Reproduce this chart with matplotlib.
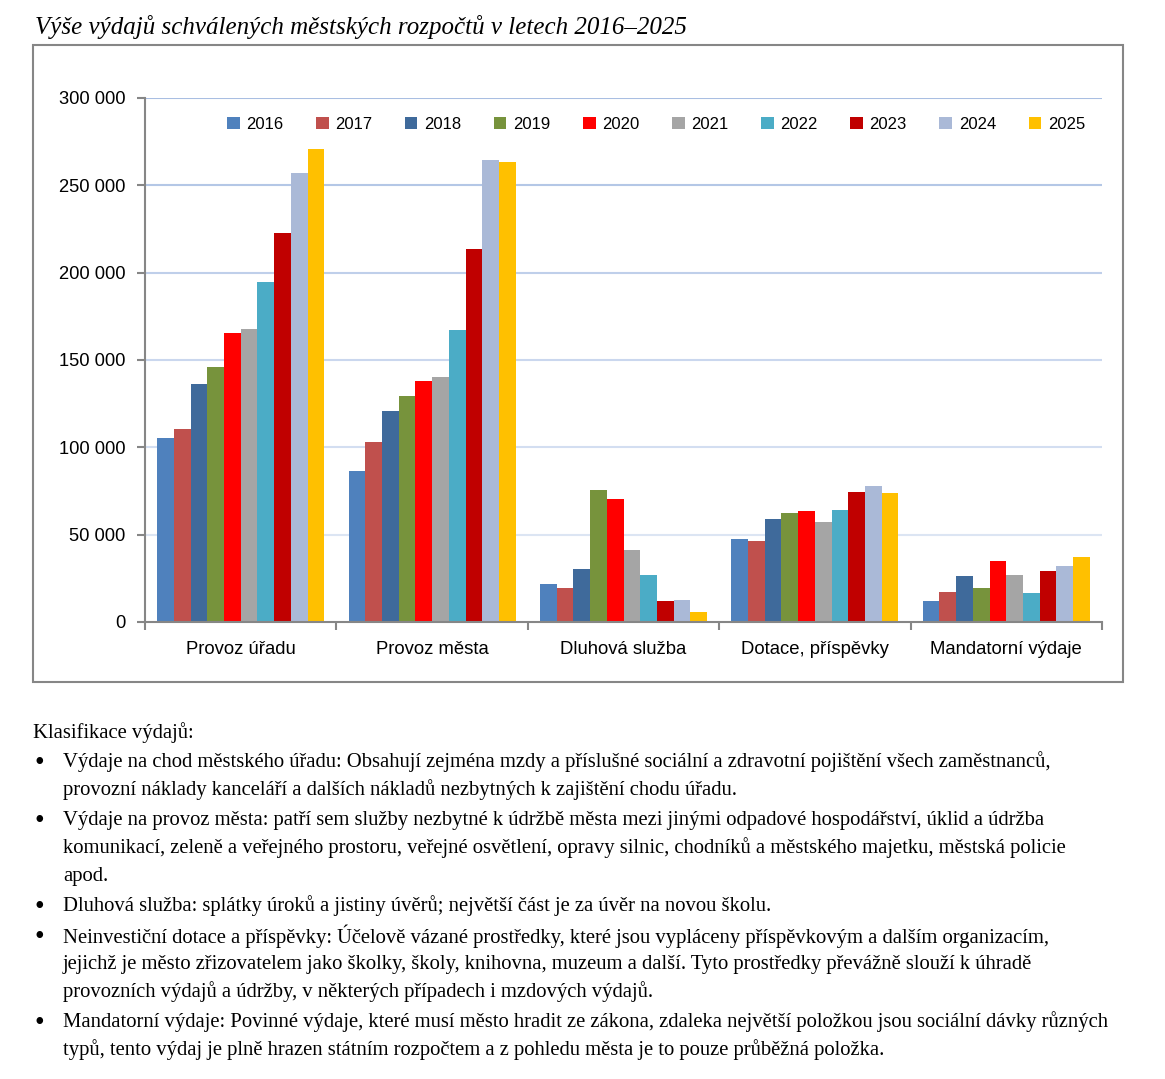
import numpy as np
import matplotlib
matplotlib.use("Agg")
import matplotlib.pyplot as plt
from matplotlib.patches import Rectangle

categories = ["Provoz úřadu", "Provoz města", "Dluhová služba", "Dotace, příspěvky", "Mandatorní výdaje"]
years = ["2016", "2017", "2018", "2019", "2020", "2021", "2022", "2023", "2024", "2025"]

# hodnoty podle kategorii, jeden seznam na rok
v2016 = [105300, 86400, 21800, 47500, 12000]
v2017 = [110500, 103000, 19500, 46400, 17200]
v2018 = [136200, 120800, 30300, 59000, 26300]
v2019 = [146000, 129400, 75600, 62400, 19500]
v2020 = [165500, 138000, 70400, 63500, 34900]
v2021 = [167700, 140300, 41200, 57200, 26900]
v2022 = [194600, 167200, 26900, 64100, 16600]
v2023 = [222700, 213500, 12000, 74400, 29200]
v2024 = [257000, 264500, 12600, 77900, 32000]
v2025 = [270800, 263400, 5700, 73800, 37200]
series = [v2016, v2017, v2018, v2019, v2020, v2021, v2022, v2023, v2024, v2025]

colors = ["#4F81BD", "#C0504D", "#3F6A9B", "#77933C", "#FF0000",
          "#A5A5A5", "#4BACC6", "#C00000", "#AAB9D7", "#FFC000"]

yticks = [0, 50000, 100000, 150000, 200000, 250000, 300000]
grid_colors = ["#DCE5F3", "#D3DEF1", "#CAD7EE", "#BFCFEA", "#B4C7E6", "#A9BEE2"]

W, H = 1165, 1079
fig = plt.figure(figsize=(W / 100, H / 100), dpi=100)

def fx(px):
    return px / W

def fy(py):
    return 1 - py / H

# ramecek grafu
fig.patches.append(Rectangle((fx(33), fy(682)), fx(1123) - fx(33), fy(45) - fy(682),
                             transform=fig.transFigure, fill=False,
                             edgecolor="#868686", linewidth=1.5))

ax = fig.add_axes([fx(145), fy(622), fx(1102) - fx(145), fy(98) - fy(622)])

x = np.arange(len(categories))
bw = 0.0873
for i, (vals, c, yr) in enumerate(zip(series, colors, years)):
    ax.bar(x + (i - 4.5) * bw, vals, width=bw, color=c, label=yr, zorder=3, linewidth=0)

ax.set_xlim(-0.5, len(categories) - 0.5)
ax.set_ylim(0, 300000)

for yv, gc in zip(yticks[1:], grid_colors):
    ax.axhline(yv, color=gc, linewidth=1.5, zorder=1)

ax.set_yticks(yticks)
ax.set_yticklabels([f"{v:,}".replace(",", " ") for v in yticks],
                   fontsize=13.2, fontfamily="Liberation Sans")
ax.set_xticks(x)
ax.set_xticklabels(categories, fontsize=13.3, fontfamily="Liberation Sans")
ax.set_xticks(np.arange(-0.5, len(categories), 1.0), minor=True)
ax.tick_params(axis="x", which="major", length=0, pad=13.5)
ax.tick_params(axis="x", which="minor", length=6, width=1.5, color="#868686", direction="out")
ax.tick_params(axis="y", length=6, width=1.5, color="#868686", direction="out", pad=8)

for s in ["top", "right"]:
    ax.spines[s].set_visible(False)
for s in ["left", "bottom"]:
    ax.spines[s].set_color("#868686")
    ax.spines[s].set_linewidth(1.5)
    ax.spines[s].set_zorder(4)

leg = ax.legend(ncol=10, loc="upper center", bbox_to_anchor=(0.534, 0.993),
                frameon=False, handlelength=0.75, handleheight=0.75,
                handletextpad=0.4, columnspacing=1.96,
                prop={"family": "Liberation Sans", "size": 12})

# titulek
fig.text(fx(35), fy(27), "Výše výdajů schválených městských rozpočtů v letech 2016–2025",
         fontsize=18, fontstyle="italic", fontfamily="Liberation Serif",
         ha="left", va="center")

# vysvetlivky pod grafem
fs = 14.9
fig.text(fx(33), fy(733), "Klasifikace výdajů:", fontsize=fs,
         fontfamily="Liberation Serif", ha="left", va="center")

bullets = [
    ["Výdaje na chod městského úřadu: Obsahují zejména mzdy a příslušné sociální a zdravotní pojištění všech zaměstnanců,",
     "provozní náklady kanceláří a dalších nákladů nezbytných k zajištění chodu úřadu."],
    ["Výdaje na provoz města: patří sem služby nezbytné k údržbě města mezi jinými odpadové hospodářství, úklid a údržba",
     "komunikací, zeleně a veřejného prostoru, veřejné osvětlení, opravy silnic, chodníků a městského majetku, městská policie",
     "apod."],
    ["Dluhová služba: splátky úroků a jistiny úvěrů; největší část je za úvěr na novou školu."],
    ["Neinvestiční dotace a příspěvky: Účelově vázané prostředky, které jsou vypláceny příspěvkovým a dalším organizacím,",
     "jejichž je město zřizovatelem jako školky, školy, knihovna, muzeum a další. Tyto prostředky převážně slouží k úhradě",
     "provozních výdajů a údržby, v některých případech i mzdových výdajů."],
    ["Mandatorní výdaje: Povinné výdaje, které musí město hradit ze zákona, zdaleka největší položkou jsou sociální dávky různých",
     "typů, tento výdaj je plně hrazen státním rozpočtem a z pohledu města je to pouze průběžná položka."],
]

ypos = 762
for lines in bullets:
    fig.text(fx(34), fy(ypos + 2), "•", fontsize=20, fontfamily="Liberation Serif",
             ha="left", va="center")
    for ln in lines:
        fig.text(fx(63), fy(ypos), ln, fontsize=fs, fontfamily="Liberation Serif",
                 ha="left", va="center")
        ypos += 28
    ypos += 2

fig.savefig("out.png", dpi=100)
